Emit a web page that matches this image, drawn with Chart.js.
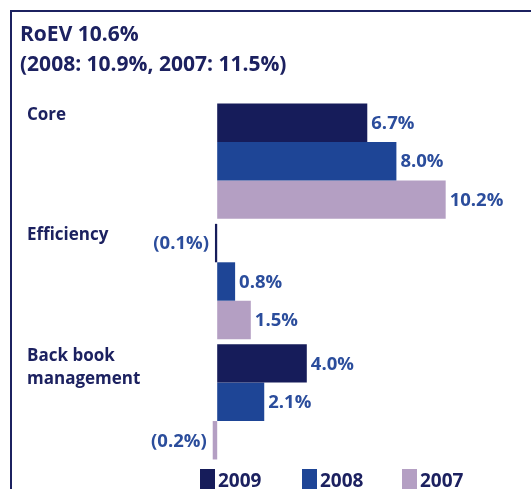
<!DOCTYPE html>
<html>
<head>
<meta charset="utf-8">
<script src="https://cdn.jsdelivr.net/npm/chart.js@4"></script>
<style>
  html, body { margin: 0; padding: 0; background: #ffffff; }
  #wrap { position: relative; width: 531px; height: 489px; overflow: hidden; }
  canvas { display: block; }
</style>
</head>
<body>
<div id="wrap"><canvas id="c" width="531" height="489"></canvas></div>
<script>
const titleLines = ['RoEV 10.6%', '(2008: 10.9%, 2007: 11.5%)'];
const categories = [['Core'], ['Efficiency'], ['Back book', 'management']];
const seriesLabels = ['2009', '2008', '2007'];
const values2009 = [6.7, -0.1, 4.0];
const values2008 = [8.0, 0.8, 2.1];
const values2007 = [10.2, 1.5, -0.2];

const colors = ['#161c5a', '#1e4596', '#b49fc3'];
const NAVY = '#1c2160';
const LABEL_BLUE = '#2b4d9c';
const FONT = '"Open Sans", "Noto Sans", sans-serif';

const fmt = v => v < 0 ? '(' + Math.abs(v).toFixed(1) + '%)' : v.toFixed(1) + '%';

const decor = {
  id: 'decor',
  beforeDraw(chart) {
    const ctx = chart.ctx;
    ctx.save();
    ctx.fillStyle = '#ffffff';
    ctx.fillRect(0, 0, chart.width, chart.height);
    // frame
    ctx.fillStyle = NAVY;
    ctx.fillRect(10, 10, chart.width - 10, 2);
    ctx.fillRect(10, 10, 2, chart.height - 10);
    // title
    ctx.fillStyle = NAVY;
    ctx.font = 'bold 21px ' + FONT;
    ctx.textBaseline = 'alphabetic';
    ctx.textAlign = 'left';
    ctx.fillText(titleLines[0], 20, 41);
    ctx.fillText(titleLines[1], 20, 71);
    ctx.restore();
  },
  afterDatasetsDraw(chart) {
    const ctx = chart.ctx;
    const yScale = chart.scales.y;
    ctx.save();
    // category labels
    const half = (yScale.getPixelForValue(1) - yScale.getPixelForValue(0)) / 2;
    ctx.fillStyle = NAVY;
    ctx.font = 'bold 17px ' + FONT;
    ctx.textAlign = 'left';
    ctx.textBaseline = 'alphabetic';
    categories.forEach((lines, i) => {
      const top = yScale.getPixelForValue(i) - half;
      lines.forEach((ln, j) => ctx.fillText(ln, 27, top + 19 + j * 23));
    });
    // value labels
    ctx.fillStyle = LABEL_BLUE;
    ctx.font = 'bold 18.5px ' + FONT;
    ctx.textBaseline = 'middle';
    chart.data.datasets.forEach((ds, di) => {
      const meta = chart.getDatasetMeta(di);
      meta.data.forEach((el, i) => {
        const v = ds.data[i];
        if (v < 0) {
          ctx.textAlign = 'right';
          ctx.fillText(fmt(v), el.x - 6, el.y + 1);
        } else {
          ctx.textAlign = 'left';
          ctx.fillText(fmt(v), el.x + 4, el.y + 1);
        }
      });
    });
    // legend
    const legendX = [200, 302, 402];
    ctx.font = 'bold 19px ' + FONT;
    ctx.textAlign = 'left';
    ctx.textBaseline = 'alphabetic';
    chart.data.datasets.forEach((ds, di) => {
      ctx.fillStyle = ds.backgroundColor;
      ctx.fillRect(legendX[di], 469, 15, 25);
      ctx.fillStyle = NAVY;
      ctx.fillText(ds.label, legendX[di] + 18, 487);
    });
    ctx.restore();
  }
};

new Chart(document.getElementById('c'), {
  type: 'bar',
  data: {
    labels: categories.map(c => c.join(' ')),
    datasets: [
      { label: seriesLabels[0], data: values2009, backgroundColor: colors[0] },
      { label: seriesLabels[1], data: values2008, backgroundColor: colors[1] },
      { label: seriesLabels[2], data: values2007, backgroundColor: colors[2] }
    ]
  },
  options: {
    indexAxis: 'y',
    responsive: false,
    animation: false,
    devicePixelRatio: 1,
    layout: { padding: { left: 38, right: 45, top: 101, bottom: 27 } },
    datasets: { bar: { categoryPercentage: 0.958, barPercentage: 1.0, borderWidth: 0 } },
    scales: {
      x: { min: -8, max: 12, display: false },
      y: { display: false }
    },
    plugins: { legend: { display: false }, tooltip: { enabled: false } }
  },
  plugins: [decor]
});
</script>
</body>
</html>
